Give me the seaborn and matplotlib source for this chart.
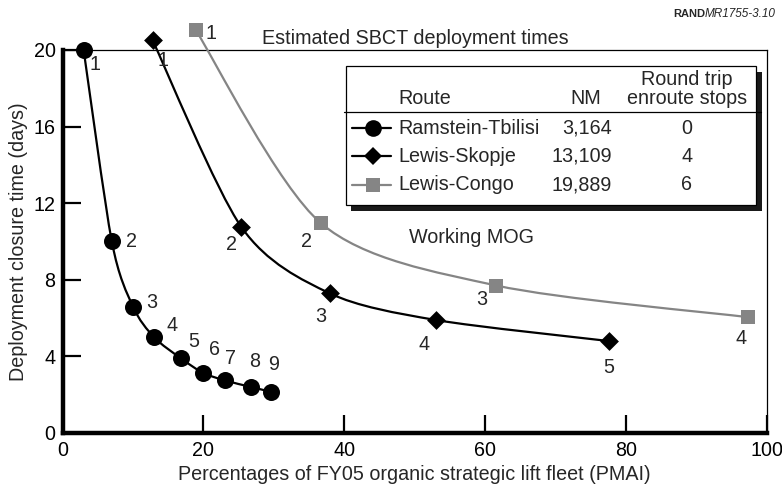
import numpy as np
import pandas as pd
import matplotlib
matplotlib.use('Agg')
import matplotlib.pyplot as plt
import seaborn as sns
from matplotlib.path import Path
from matplotlib.patches import PathPatch, Rectangle
from matplotlib.lines import Line2D

# values
rt_x = [3, 7, 10, 13, 16.8, 19.9, 23, 26.8, 29.6]
rt_y = [20, 10, 6.6, 5.0, 3.9, 3.15, 2.75, 2.4, 2.15]
sk_x = [12.8, 25.4, 37.9, 53.0, 77.6]
sk_y = [20.5, 10.75, 7.3, 5.9, 4.8]
cg_x = [18.9, 36.7, 61.6, 97.3]
cg_y = [21.05, 10.95, 7.7, 6.05]

routes = ['Ramstein-Tbilisi', 'Lewis-Skopje', 'Lewis-Congo']
nm = ['3,164', '13,109', '19,889']
stops = ['0', '4', '6']

xticks = [0, 20, 40, 60, 80, 100]
yticks = [0, 4, 8, 12, 16, 20]

GRAY = '#858585'
FS = 14.2

sns.set_style('white')
plt.rcParams['font.family'] = ['Liberation Sans', 'DejaVu Sans']

W, H = 782, 487
fig = plt.figure(figsize=(W / 100, H / 100), dpi=100)
ax = fig.add_axes([62.5 / W, 1 - 433 / H, (767 - 62.5) / W, (433 - 50) / H])


def fx(px):
    return px / W


def fy(py):
    return 1 - py / H


def smooth(ax, xs, ys, color, lw, k=7.0):
    # catmull-rom style curve through the points, drawn as bezier path
    p = np.column_stack([xs, ys]).astype(float)
    ext = np.vstack([p[0], p, p[-1]])
    verts = [p[0]]
    codes = [Path.MOVETO]
    for i in range(len(p) - 1):
        a, b, c, d = ext[i], ext[i + 1], ext[i + 2], ext[i + 3]
        verts += [b + (c - a) / k, c - (d - b) / k, c]
        codes += [Path.CURVE4] * 3
    ax.add_patch(PathPatch(Path(verts, codes), fill=False, edgecolor=color,
                           lw=lw, clip_on=False, zorder=3))


smooth(ax, rt_x, rt_y, 'black', 1.6)
smooth(ax, sk_x, sk_y, 'black', 1.6)
smooth(ax, cg_x, cg_y, GRAY, 1.6)

df_rt = pd.DataFrame({'x': rt_x, 'y': rt_y})
df_sk = pd.DataFrame({'x': sk_x, 'y': sk_y})
df_cg = pd.DataFrame({'x': cg_x, 'y': cg_y})
sns.scatterplot(data=df_rt, x='x', y='y', marker='o', s=150, color='black',
                edgecolor='black', linewidth=0, ax=ax, zorder=5, clip_on=False)
sns.scatterplot(data=df_sk, x='x', y='y', marker='D', s=92, color='black',
                edgecolor='black', linewidth=0, ax=ax, zorder=5, clip_on=False)
sns.scatterplot(data=df_cg, x='x', y='y', marker='s', s=90, color=GRAY,
                edgecolor=GRAY, linewidth=0, ax=ax, zorder=5, clip_on=False)

# point number labels (offsets in pixels)
rt_off = [(11, -15), (20, 0), (19, 4), (18, 12), (13, 17), (12, 23), (6, 22), (3, 26), (3, 27)]
sk_off = [(10, -20), (-10, -17), (-9, -23), (-12, -24), (0, -26)]
cg_off = [(15, -4), (-15, -18), (-15, -14), (-7, -21)]
for xs, ys, offs in [(rt_x, rt_y, rt_off), (sk_x, sk_y, sk_off), (cg_x, cg_y, cg_off)]:
    for i, (x, y) in enumerate(zip(xs, ys)):
        ax.annotate(str(i + 1), (x, y), xytext=offs[i], textcoords='offset pixels',
                    ha='center', va='center', fontsize=FS, zorder=6,
                    annotation_clip=False)

ax.set_xlim(0, 100)
ax.set_ylim(0, 20)
ax.set_xticks(xticks)
ax.set_yticks(yticks)
ax.tick_params(axis='both', which='major', bottom=True, left=True,
               direction='in', length=13, width=1.6, color='black',
               labelsize=FS, labelcolor='black')
ax.tick_params(axis='x', pad=6)
ax.tick_params(axis='y', pad=5)
ax.set_xlabel('Percentages of FY05 organic strategic lift fleet (PMAI)', fontsize=FS, labelpad=3)
ax.set_ylabel('Deployment closure time (days)', fontsize=FS, labelpad=4)
for side in ['left', 'bottom']:
    ax.spines[side].set_linewidth(3.2)
for side in ['top', 'right']:
    ax.spines[side].set_visible(True)
    ax.spines[side].set_linewidth(0.9)
for side in ax.spines:
    ax.spines[side].set_color('black')

fig.text(fx(415), fy(38), 'Estimated SBCT deployment times', ha='center', va='center', fontsize=FS)
fig.text(fx(409), fy(237), 'Working MOG', ha='left', va='center', fontsize=FS)

rand = fig.text(fx(673), fy(14), 'RAND', ha='left', va='center', fontsize=8, fontweight='bold')
ax.annotate('MR1755-3.10', xy=(1, 0.5), xycoords=rand, va='center', ha='left',
            fontsize=8.5, fontstyle='italic', annotation_clip=False)

# legend table
fig.add_artist(Rectangle((fx(351), fy(211)), fx(762 - 351), (211 - 72) / H,
                         facecolor='#1a1a1a', edgecolor='none', zorder=7))
fig.add_artist(Rectangle((fx(346), fy(205)), fx(756 - 346), (205 - 65.5) / H,
                         facecolor='white', edgecolor='black', lw=0.9, zorder=8))
fig.add_artist(Line2D([fx(344), fx(761)], [fy(111.5), fy(111.5)], color='black', lw=0.9, zorder=9))
fig.text(fx(398), fy(99), 'Route', ha='left', va='center', fontsize=FS, zorder=9)
fig.text(fx(601), fy(99), 'NM', ha='right', va='center', fontsize=FS, zorder=9)
fig.text(fx(687), fy(89), 'Round trip\nenroute stops', ha='center', va='center',
         fontsize=FS, linespacing=0.95, zorder=9)
row_y = [128, 156, 185]
styles = [dict(color='black', marker='o', ms=12),
          dict(color='black', marker='D', ms=9.6),
          dict(color=GRAY, marker='s', ms=9.5)]
for i, yy in enumerate(row_y):
    fig.add_artist(Line2D([fx(352), fx(391)], [fy(yy), fy(yy)], lw=1.6,
                          color=styles[i]['color'], zorder=9))
    fig.add_artist(Line2D([fx(373)], [fy(yy)], lw=0, marker=styles[i]['marker'],
                          ms=styles[i]['ms'], color=styles[i]['color'],
                          markeredgewidth=0, zorder=10))
    fig.text(fx(398), fy(yy), routes[i], ha='left', va='center', fontsize=FS, zorder=9)
    fig.text(fx(612), fy(yy), nm[i], ha='right', va='center', fontsize=FS, zorder=9)
    fig.text(fx(687), fy(yy), stops[i], ha='center', va='center', fontsize=FS, zorder=9)

fig.savefig('out.png', dpi=100)
